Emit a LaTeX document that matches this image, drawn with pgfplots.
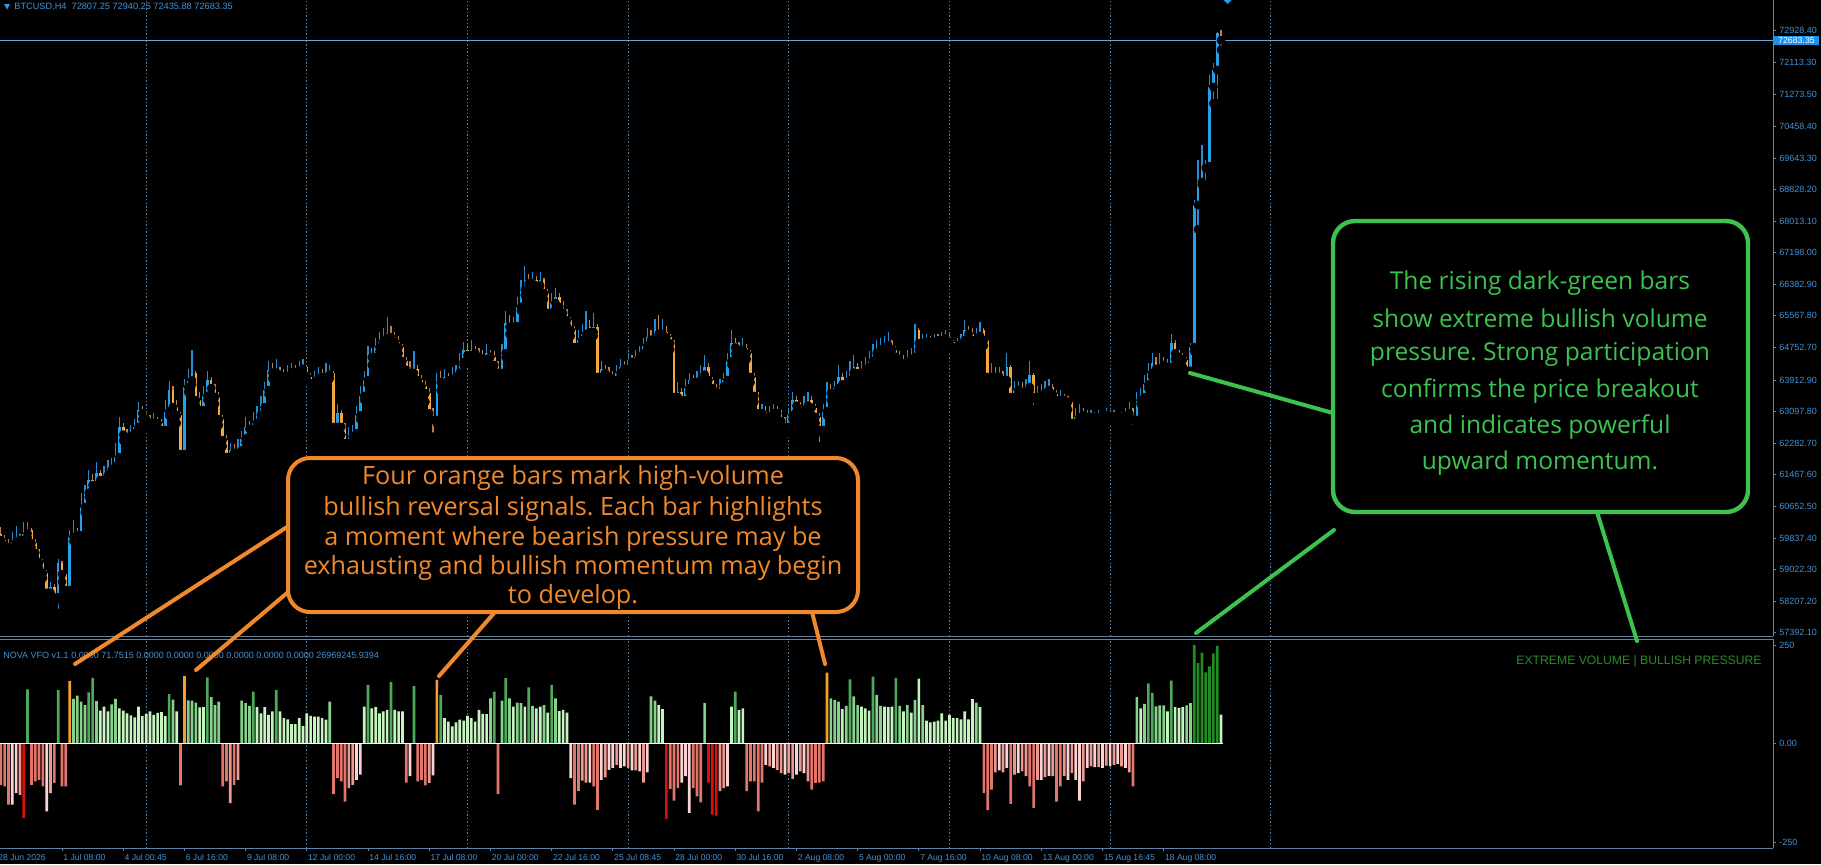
\documentclass[border=0pt]{standalone}
\usepackage{fontspec}
\setmainfont{Liberation Sans}
\newfontfamily\boxfont{Open Sans}
\usepackage{pgfplots}
\usepackage{pgfplotstable}
\pgfplotsset{compat=1.18}
\frenchspacing
\definecolor{upc}{RGB}{38,160,235}
\definecolor{upw}{RGB}{35,140,210}
\definecolor{dnc}{RGB}{245,168,60}
\definecolor{dnw}{RGB}{185,130,72}
\definecolor{axc}{RGB}{95,130,165}
\definecolor{lblc}{RGB}{70,145,210}
\definecolor{gridc}{RGB}{80,132,178}
\definecolor{pricel}{RGB}{110,165,210}
\definecolor{pricebox}{RGB}{30,144,232}
\definecolor{hD}{RGB}{77,170,90}
\definecolor{hM}{RGB}{134,210,140}
\definecolor{hL}{RGB}{198,243,192}
\definecolor{hO}{RGB}{242,160,48}
\definecolor{hX}{RGB}{35,139,35}
\definecolor{hS}{RGB}{227,117,107}
\definecolor{hP}{RGB}{238,152,146}
\definecolor{hW}{RGB}{250,212,212}
\definecolor{hR}{RGB}{216,16,16}
\definecolor{boxor}{RGB}{240,136,44}
\definecolor{boxgr}{RGB}{60,194,78}
\definecolor{evgr}{RGB}{40,140,40}

\pgfplotstableread{
i o h l c v k
0 59950 60120 59650 59780 -104 6
1 59780 59900 59500 59650 -108 6
2 59650 59800 59400 59600 -154 6
3 59600 60000 59450 59720 -154 8
4 59720 60150 59600 59830 -125 8
5 59830 59950 59550 59790 -129 7
6 59790 60250 59700 59950 -188 9
7 59950 60250 59850 60040 138 1
8 60040 60100 59600 59700 -104 6
9 59700 59800 59300 59450 -95 6
10 59450 59550 59050 59200 -91 6
11 59200 59300 58800 58930 -108 6
12 58930 59000 58250 58420 -171 8
13 58420 58700 58200 58570 -125 7
14 58570 58650 58150 58300 -99 6
15 58300 59300 57900 59190 136 1
16 59190 59250 58700 58900 -108 6
17 58900 58950 58350 58490 -108 6
18 58490 60050 58400 59860 159 4
19 59860 60300 59750 59960 114 2
20 59960 60100 59700 59900 122 2
21 59900 61000 59800 60630 107 2
22 60630 61200 60500 61000 98 2
23 61000 61600 60900 61330 130 1
24 61330 61500 61050 61200 167 1
25 61200 61800 61100 61510 108 2
26 61510 61600 61200 61330 84 3
27 61330 61700 61250 61450 94 3
28 61450 61850 61400 61590 82 3
29 61590 61900 61500 61700 100 2
30 61700 62300 61600 61920 114 2
31 61920 62950 61850 62700 90 3
32 62700 62800 62350 62500 84 3
33 62500 62650 62300 62440 77 3
34 62440 62750 62350 62540 72 3
35 62540 62900 62450 62700 67 3
36 62700 63350 62650 63130 94 3
37 63130 63250 62900 63050 70 3
38 63050 63100 62750 62900 76 3
39 62900 63000 62650 62800 82 3
40 62800 63050 62700 62850 73 3
41 62850 62950 62650 62800 78 3
42 62800 62900 62500 62620 80 3
43 62620 63400 62550 63100 70 3
44 63100 63900 63000 63650 126 1
45 63650 63750 63100 63210 112 2
46 63210 63400 62800 63000 82 3
47 63000 63100 61750 62000 -105 6
48 62000 63950 61900 63730 171 4
49 63730 64200 63600 63900 110 2
50 63900 64690 63800 64090 109 2
51 64090 64150 63250 63390 104 2
52 63390 63600 62900 63130 92 3
53 63130 63750 63000 63500 93 3
54 63500 64150 63400 63910 168 1
55 63910 64000 63550 63700 118 2
56 63700 63800 63300 63470 98 2
57 63470 63600 62750 62900 107 2
58 62900 63000 62200 62360 -108 6
59 62360 62500 61700 61920 -95 6
60 61920 62300 61750 62100 -150 7
61 62100 62250 61800 62030 -104 6
62 62030 62400 61900 62100 -91 7
63 62100 62600 61950 62400 109 2
64 62400 62950 62300 62700 103 2
65 62700 62850 62450 62650 96 2
66 62650 63100 62550 62800 132 1
67 62800 63250 62700 63000 93 3
68 63000 63500 62900 63210 77 3
69 63210 63850 63100 63650 93 3
70 63650 64400 63550 64170 73 3
71 64170 64350 63950 64100 82 3
72 64100 64450 63950 64170 136 1
73 64170 64250 63850 64050 82 3
74 64050 64200 63800 63990 65 3
75 63990 64300 63900 64100 62 3
76 64100 64350 64000 64170 50 3
77 64170 64300 64000 64120 50 3
78 64120 64400 64050 64200 65 3
79 64200 64450 64100 64250 45 3
80 64250 64300 63900 64000 77 3
81 64000 64100 63700 63830 71 3
82 63830 64150 63750 63950 69 3
83 63950 64250 63850 64040 69 3
84 64040 64200 63850 63980 65 3
85 63980 64350 63900 64050 61 3
86 64050 64300 63950 64090 107 2
87 64090 64150 62600 62700 -127 6
88 62700 63300 62500 63050 -87 6
89 63050 63150 62500 62700 -95 6
90 62700 62800 62100 62280 -146 6
91 62280 62700 62150 62450 -112 7
92 62450 62750 62300 62540 -104 7
93 62540 63250 62400 63000 -91 8
94 63000 63750 62900 63500 -78 8
95 63500 64150 63400 63910 94 3
96 63910 64800 63800 64600 149 1
97 64600 64750 64300 64500 90 3
98 64500 65000 64400 64760 93 3
99 64760 65150 64650 64900 77 3
100 64900 65250 64800 65000 82 3
101 65000 65550 64900 65120 86 3
102 65120 65300 64850 65020 157 1
103 65020 65150 64700 64900 86 3
104 64900 65050 64600 64760 82 3
105 64760 64850 64250 64400 82 3
106 64400 64500 64000 64170 -98 6
107 64170 64400 63900 64090 -82 8
108 64090 64650 63950 64200 146 1
109 64200 64300 63750 63910 -95 6
110 63910 64050 63600 63750 -91 6
111 63750 63900 63350 63570 -105 6
112 63570 63700 62900 63050 -99 7
113 63050 63200 62450 62880 -80 8
114 62880 64100 62800 63910 162 4
115 63910 64150 63650 63850 124 1
116 63850 64200 63750 63990 65 3
117 63990 64100 63700 63900 56 3
118 63900 64250 63800 63990 44 3
119 63990 64300 63900 64100 54 3
120 64100 64600 64000 64380 61 3
121 64380 64900 64300 64690 59 3
122 64690 64850 64400 64550 71 3
123 64550 64950 64450 64690 65 3
124 64690 64800 64450 64600 56 3
125 64600 64750 64350 64510 86 3
126 64510 64700 64300 64450 76 3
127 64450 64850 64350 64600 75 3
128 64600 64700 64300 64510 115 2
129 64510 64650 64150 64300 132 1
130 64300 64400 63900 64090 -127 6
131 64090 64850 64000 64600 109 2
132 64600 65700 64500 65380 166 1
133 65380 65600 65100 65280 115 2
134 65280 65550 65100 65300 94 3
135 65300 66050 65200 65800 104 2
136 65800 66500 65700 66240 103 2
137 66240 66850 66100 66490 94 3
138 66490 66650 66200 66400 143 1
139 66400 66700 66300 66490 96 2
140 66490 66600 66100 66350 90 3
141 66350 66700 66200 66490 94 3
142 66490 66550 66000 66150 98 2
143 66150 66250 65500 65640 79 3
144 65640 66150 65500 65900 149 1
145 65900 66300 65750 66060 115 2
146 66060 66150 65650 65800 83 3
147 65800 65950 65450 65640 86 3
148 65640 65750 65300 65450 79 3
149 65450 65550 65050 65200 -87 8
150 65200 65300 64600 64760 -154 6
151 64760 65200 64650 64940 -119 6
152 64940 65350 64850 65100 -93 7
153 65100 65700 65000 65280 -98 7
154 65280 65450 65000 65150 -98 8
155 65150 65650 65050 65280 -108 6
156 65280 65350 63800 63990 -167 6
157 63990 64400 63850 64200 -91 8
158 64200 64300 63900 64090 -85 7
159 64090 64250 63800 64000 -66 8
160 64000 64150 63650 63910 -61 8
161 63910 64300 63800 64100 -53 7
162 64100 64450 64000 64250 -61 8
163 64250 64400 64050 64200 -57 8
164 64200 64600 64100 64430 -61 7
165 64430 64550 64250 64380 -67 8
166 64380 64700 64300 64500 -67 7
167 64500 64800 64400 64600 -70 8
168 64600 65000 64500 64800 -98 7
169 64800 65250 64700 65020 -72 8
170 65020 65200 64800 64950 120 2
171 64950 65500 64850 65200 109 2
172 65200 65600 64950 65100 98 3
173 65100 65500 64950 65150 88 3
174 65150 65300 64850 65020 -190 9
175 65020 65100 64700 64860 -114 6
176 64860 64950 63300 63470 -144 6
177 63470 63850 63300 63600 -112 6
178 63600 63700 63200 63390 -98 8
179 63390 63950 63250 63700 -82 8
180 63700 64100 63600 63910 -175 8
181 63910 64050 63650 63850 -112 6
182 63850 64150 63750 63910 -133 6
183 63910 64300 63800 64050 -148 6
184 64050 64550 63950 64250 103 2
185 64250 64350 63750 63910 -98 9
186 63910 64000 63500 63700 -179 9
187 63700 63800 63350 63570 -182 9
188 63570 63950 63450 63750 -120 7
189 63750 64100 63650 63910 -112 7
190 63910 64600 63800 64400 -108 8
191 64400 65200 64300 64860 94 3
192 64860 65000 64600 64750 132 1
193 64750 64900 64500 64690 86 3
194 64690 65000 64600 64750 90 3
195 64750 64850 64450 64600 -120 6
196 64600 64700 63850 63990 -95 6
197 63990 64100 63350 63500 -95 6
198 63500 63600 62900 63050 -171 6
199 63050 63300 62950 63100 -98 6
200 63100 63250 62800 62960 -53 8
201 62960 63250 62850 63050 -57 7
202 63050 63300 62950 63150 -61 8
203 63150 63250 62900 63050 -66 7
204 63050 63150 62700 62850 -74 7
205 62850 62950 62500 62700 -78 8
206 62700 63200 62600 63000 -74 7
207 63000 63600 62900 63390 -89 7
208 63390 63500 63100 63250 -78 8
209 63250 63350 62950 63130 -70 7
210 63130 63500 63000 63250 -74 8
211 63250 63600 63150 63390 -95 7
212 63390 63500 63000 63200 -116 6
213 63200 63300 62800 62960 -99 6
214 62960 63050 62200 62620 -98 6
215 62620 63300 62500 63100 -95 6
216 63100 63850 63000 63650 180 4
217 63650 63800 63400 63570 115 2
218 63570 63900 63450 63700 111 2
219 63700 64300 63600 63990 107 2
220 63990 64100 63650 63800 88 3
221 63800 64150 63700 63910 96 2
222 63910 64400 63800 64100 163 1
223 64100 64550 64000 64250 120 2
224 64250 64350 63900 64090 98 2
225 64090 64400 64000 64150 94 3
226 64150 64500 64050 64250 90 3
227 64250 64650 64150 64400 84 3
228 64400 64850 64300 64600 170 1
229 64600 64950 64500 64700 124 2
230 64700 65000 64600 64760 96 2
231 64760 65050 64650 64800 94 3
232 64800 65150 64700 64860 93 3
233 64860 64950 64550 64700 94 3
234 64700 64800 64350 64510 167 1
235 64510 64650 64200 64400 96 2
236 64400 64550 64150 64340 82 3
237 64340 64700 64250 64450 98 2
238 64450 64750 64350 64510 79 3
239 64510 65350 64450 65200 111 2
240 65200 65250 64700 64860 165 3
241 64860 65100 64750 64900 98 2
242 64900 65100 64800 64940 59 3
243 64940 65050 64800 64900 54 3
244 64900 65100 64850 64960 56 3
245 64960 65100 64850 64940 59 3
246 64940 65150 64850 64980 77 3
247 64980 65200 64900 65020 59 3
248 65020 65100 64800 64900 73 3
249 64900 64950 64650 64760 65 3
250 64760 65000 64700 64850 65 3
251 64850 65100 64800 64940 62 3
252 64940 65450 64850 65200 82 3
253 65200 65300 64950 65100 62 3
254 65100 65250 64800 64940 113 3
255 64940 65250 64850 65050 104 2
256 65050 65400 64950 65200 93 3
257 65200 65250 64800 64940 -125 6
258 64940 65000 63850 63990 -168 6
259 63990 64350 63850 64100 -116 6
260 64100 64250 63850 63990 -72 7
261 63990 64250 63900 64050 -67 8
262 64050 64150 63750 63910 -72 7
263 63910 64600 63800 64250 -61 8
264 64250 64300 63250 63470 -152 6
265 63470 63900 63400 63650 -78 7
266 63650 63900 63550 63700 -74 8
267 63700 63850 63450 63600 -70 7
268 63600 63950 63500 63730 -82 7
269 63730 64400 63650 64040 -108 6
270 64040 64100 63150 63470 -162 6
271 63470 63750 63350 63500 -91 7
272 63500 63800 63400 63570 -91 8
273 63570 63900 63500 63650 -84 7
274 63650 63950 63550 63730 -81 8
275 63730 63800 63350 63550 -82 7
276 63550 63650 63200 63390 -146 6
277 63390 63650 63250 63450 -108 6
278 63450 63550 63200 63390 -82 7
279 63390 63500 63150 63350 -91 8
280 63350 63400 62600 62800 -74 7
281 62800 63200 62700 62950 -91 8
282 62950 63300 62850 63050 -144 8
283 63050 63200 62850 63000 -95 7
284 63000 63150 62800 62960 -61 8
285 62960 63150 62850 63000 -57 7
286 63000 63100 62850 62960 -59 8
287 62960 63150 62900 63020 -59 7
288 63020 63100 62900 63000 -61 8
289 63000 63200 62900 63050 -55 7
290 63050 63150 62850 62980 -57 8
291 62980 63150 62900 63020 -53 7
292 63020 63100 62900 63000 -51 8
293 63000 63100 62850 62960 -57 7
294 62960 63200 62900 63050 -61 8
295 63050 63350 63000 63130 -72 7
296 63130 63200 62650 62880 -108 6
297 62880 63600 62800 63390 118 2
298 63390 63700 63300 63470 90 3
299 63470 64050 63400 63800 101 2
300 63800 64350 63700 64090 153 1
301 64090 64600 64000 64340 129 1
302 64340 64500 64050 64200 95 2
303 64200 64600 64100 64340 97 2
304 64340 64500 64150 64300 97 2
305 64300 64450 64100 64250 82 3
306 64250 65100 64150 64860 160 1
307 64860 64950 64450 64600 93 3
308 64600 64700 64350 64500 91 3
309 64500 64600 64250 64430 93 3
310 64430 64500 64000 64150 97 2
311 64150 64860 64050 64760 103 2
312 64760 68550 64650 68430 250 5
313 68430 69590 67800 69020 204 5
314 69020 69980 68950 69385 231 5
315 69385 69600 68870 69430 181 5
316 69430 71780 69300 71475 196 5
317 71475 72100 71050 71915 229 5
318 71915 72900 71060 72870 248 5
319 72807.25 72940.25 72435.88 72683.35 74 3
}\data

\begin{document}
\begin{tikzpicture}
\fill[black] (0,0) rectangle (910.5pt,-432pt);
\useasboundingbox (0,0) rectangle (910.5pt,-432pt);

% ---------------- price panel ----------------
\begin{axis}[
  at={(0pt,0pt)}, anchor=north west, scale only axis,
  width=886.5pt, height=318pt,
  xmin=-0.209, xmax=463.3, ymin=57305.6, ymax=73720.8,
  axis x line=bottom, axis y line=right,
  axis line style={-, draw=axc, line width=0.5pt},
  xtick=\empty, scaled y ticks=false,
  ytick={72928.4,72113.3,71273.5,70458.4,69643.3,68828.2,68013.1,67198,66382.9,65567.8,64752.7,63912.9,63097.8,62282.7,61467.6,60652.5,59837.4,59022.3,58207.2,57392.1},
  yticklabels={72928.40,72113.30,71273.50,70458.40,69643.30,68828.20,68013.10,67198.00,66382.90,65567.80,64752.70,63912.90,63097.80,62282.70,61467.60,60652.50,59837.40,59022.30,58207.20,57392.10},
  yticklabel style={font=\fontsize{4.5}{5}\selectfont, text=lblc, anchor=west, inner sep=0pt, xshift=1.5pt},
  tick style={draw=axc, line width=0.4pt},
  tick align=outside, major tick length=1.5pt,
]
\pgfplotsinvokeforeach{38,80,122,164,206,248,290,332}{
  \draw[gridc, line width=0.55pt, dash pattern=on 0.7pt off 1.1pt] (#1,57305.6) -- (#1,73720.8);
}
\addplot[pricel, line width=0.5pt] coordinates {(-1,72683.35) (470,72683.35)};
% wicks
\addplot[only marks, mark=none, restrict expr to domain={\thisrow{c}-\thisrow{o}}{-100000:-0.001},
  error bars/.cd, y dir=plus, y explicit, error mark=none, error bar style={draw=dnw, line width=0.6pt}]
  table[x=i, y=l, y error expr=\thisrow{h}-\thisrow{l}] {\data};
\addplot[only marks, mark=none, restrict expr to domain={\thisrow{c}-\thisrow{o}}{0:100000},
  error bars/.cd, y dir=plus, y explicit, error mark=none, error bar style={draw=upw, line width=0.6pt}]
  table[x=i, y=l, y error expr=\thisrow{h}-\thisrow{l}] {\data};
% bodies
\addplot[only marks, mark=none, restrict expr to domain={\thisrow{c}-\thisrow{o}}{-100000:-0.001},
  error bars/.cd, y dir=plus, y explicit, error mark=none, error bar style={draw=dnc, line width=1.3pt, line cap=butt}]
  table[x=i, y=c, y error expr=\thisrow{o}-\thisrow{c}] {\data};
\addplot[only marks, mark=none, restrict expr to domain={\thisrow{c}-\thisrow{o}}{0:100000},
  error bars/.cd, y dir=plus, y explicit, error mark=none, error bar style={draw=upc, line width=1.3pt, line cap=butt}]
  table[x=i, y=o, y error expr=\thisrow{c}-\thisrow{o}] {\data};
\end{axis}

% ---------------- indicator panel ----------------
\begin{axis}[
  at={(0pt,-319.5pt)}, anchor=north west, scale only axis,
  width=886.5pt, height=104.5pt,
  xmin=-0.209, xmax=463.3, ymin=-263.7, ymax=265.2,
  axis x line=bottom, axis y line=right,
  axis line style={-, draw=axc, line width=0.5pt},
  ytick={-250,0,250}, yticklabels={-250,0.00,250},
  xtick={16,32,...,304},
  xticklabels={1 Jul 08:00,4 Jul 00:45,6 Jul 16:00,9 Jul 08:00,12 Jul 00:00,14 Jul 16:00,17 Jul 08:00,20 Jul 00:00,22 Jul 16:00,25 Jul 08:45,28 Jul 00:00,30 Jul 16:00,2 Aug 08:00,5 Aug 00:00,7 Aug 16:00,10 Aug 08:00,13 Aug 00:00,15 Aug 16:45,18 Aug 08:00},
  yticklabel style={font=\fontsize{4.5}{5}\selectfont, text=lblc, anchor=west, inner sep=0pt, xshift=1.5pt},
  xticklabel style={font=\fontsize{4.3}{5}\selectfont, text=lblc, anchor=north west, inner sep=0pt, xshift=0.5pt, yshift=-1.5pt},
  tick style={draw=axc, line width=0.4pt},
  tick align=outside, major tick length=1.5pt,
]
\pgfplotsinvokeforeach{38,80,122,164,206,248,290,332}{
  \draw[gridc, line width=0.55pt, dash pattern=on 0.7pt off 1.1pt] (#1,-263.7) -- (#1,265.2);
}
\addplot[ybar, bar width=1.35pt, bar shift=0pt, draw=none, fill=hD, restrict expr to domain={\thisrow{k}}{1:1}] table[x=i,y=v] {\data};
\addplot[ybar, bar width=1.35pt, bar shift=0pt, draw=none, fill=hM, restrict expr to domain={\thisrow{k}}{2:2}] table[x=i,y=v] {\data};
\addplot[ybar, bar width=1.35pt, bar shift=0pt, draw=none, fill=hL, restrict expr to domain={\thisrow{k}}{3:3}] table[x=i,y=v] {\data};
\addplot[ybar, bar width=1.35pt, bar shift=0pt, draw=none, fill=hO, restrict expr to domain={\thisrow{k}}{4:4}] table[x=i,y=v] {\data};
\addplot[ybar, bar width=1.35pt, bar shift=0pt, draw=none, fill=hX, restrict expr to domain={\thisrow{k}}{5:5}] table[x=i,y=v] {\data};
\addplot[ybar, bar width=1.35pt, bar shift=0pt, draw=none, fill=hS, restrict expr to domain={\thisrow{k}}{6:6}] table[x=i,y=v] {\data};
\addplot[ybar, bar width=1.35pt, bar shift=0pt, draw=none, fill=hP, restrict expr to domain={\thisrow{k}}{7:7}] table[x=i,y=v] {\data};
\addplot[ybar, bar width=1.35pt, bar shift=0pt, draw=none, fill=hW, restrict expr to domain={\thisrow{k}}{8:8}] table[x=i,y=v] {\data};
\addplot[ybar, bar width=1.35pt, bar shift=0pt, draw=none, fill=hR, restrict expr to domain={\thisrow{k}}{9:9}] table[x=i,y=v] {\data};
\addplot[white, line width=0.5pt] coordinates {(-0.5,0) (319.5,0)};
\end{axis}

% ---------------- annotations (pixel units) ----------------
\begin{scope}[x=0.5pt, y=-0.5pt]
\draw[axc, line width=0.5pt] (0,639) -- (1773,639);
% title
\fill[lblc] (4,4) -- (10,4) -- (7,9.5) -- cycle;
\node[anchor=west, inner sep=0pt, text=lblc, font=\fontsize{4.6}{5}\selectfont] at (14,7) {BTCUSD,H4\ \ 72807.25 72940.25 72435.88 72683.35};
\fill[upc] (1222.5,-1) -- (1227.5,4) -- (1232.5,-1) -- (1227.5,-6) -- cycle;
% current price label
\fill[pricebox] (1774,36) rectangle (1819,45);
\node[inner sep=0pt, text=white, font=\fontsize{4.4}{5}\selectfont] at (1796.5,40.7) {72683.35};
% indicator labels
\node[anchor=west, inner sep=0pt, text=lblc, font=\fontsize{4.5}{5}\selectfont] at (3,655) {NOVA VFO v1.1 0.0000 71.7515 0.0000 0.0000 0.0000 0.0000 0.0000 0.0000 26969245.9394};
\node[anchor=west, inner sep=0pt, text=lblc, font=\fontsize{4.3}{5}\selectfont] at (-2,858) {28 Jun 2026};
\node[anchor=east, inner sep=0pt, text=evgr, font=\fontsize{6.1}{7}\selectfont] at (1762,661) {EXTREME VOLUME | BULLISH PRESSURE};
% orange callout
\draw[boxor, line width=2pt, line cap=round] (287,527) -- (75,664);
\draw[boxor, line width=2pt, line cap=round] (287,593) -- (196,670);
\draw[boxor, line width=2pt, line cap=round] (495,612) -- (439,676);
\draw[boxor, line width=2pt, line cap=round] (812,612) -- (825,664);
\draw[boxor, line width=2pt, fill=black, rounded corners=11pt] (288,458) rectangle (858,612);
\begin{scope}[every node/.style={text=boxor, inner sep=0pt, font=\boxfont\fontsize{12.6}{14}\selectfont}]
\node at (573,478) {Four orange bars mark high-volume};
\node at (573,509) {bullish reversal signals. Each bar highlights};
\node at (573,539) {a moment where bearish pressure may be};
\node at (573,568) {exhausting and bullish momentum may begin};
\node at (573,597) {to develop.};
\end{scope}
% green callout
\draw[boxgr, line width=2pt, line cap=round] (1190,373) -- (1333,413);
\draw[boxgr, line width=2pt, line cap=round] (1334,530) -- (1196,633);
\draw[boxgr, line width=2pt, line cap=round] (1597,512) -- (1637,641);
\draw[boxgr, line width=2.2pt, fill=black, rounded corners=11pt] (1333,221) rectangle (1748,512);
\begin{scope}[every node/.style={text=boxgr, inner sep=0pt, font=\boxfont\fontsize{12.3}{14}\selectfont}]
\node at (1540,283) {The rising dark-green bars};
\node at (1540,318) {show extreme bullish volume};
\node at (1540,354) {pressure. Strong participation};
\node at (1540,391) {confirms the price breakout};
\node at (1540,427) {and indicates powerful};
\node at (1540,463) {upward momentum.};
\end{scope}
\end{scope}
\end{tikzpicture}
\end{document}
